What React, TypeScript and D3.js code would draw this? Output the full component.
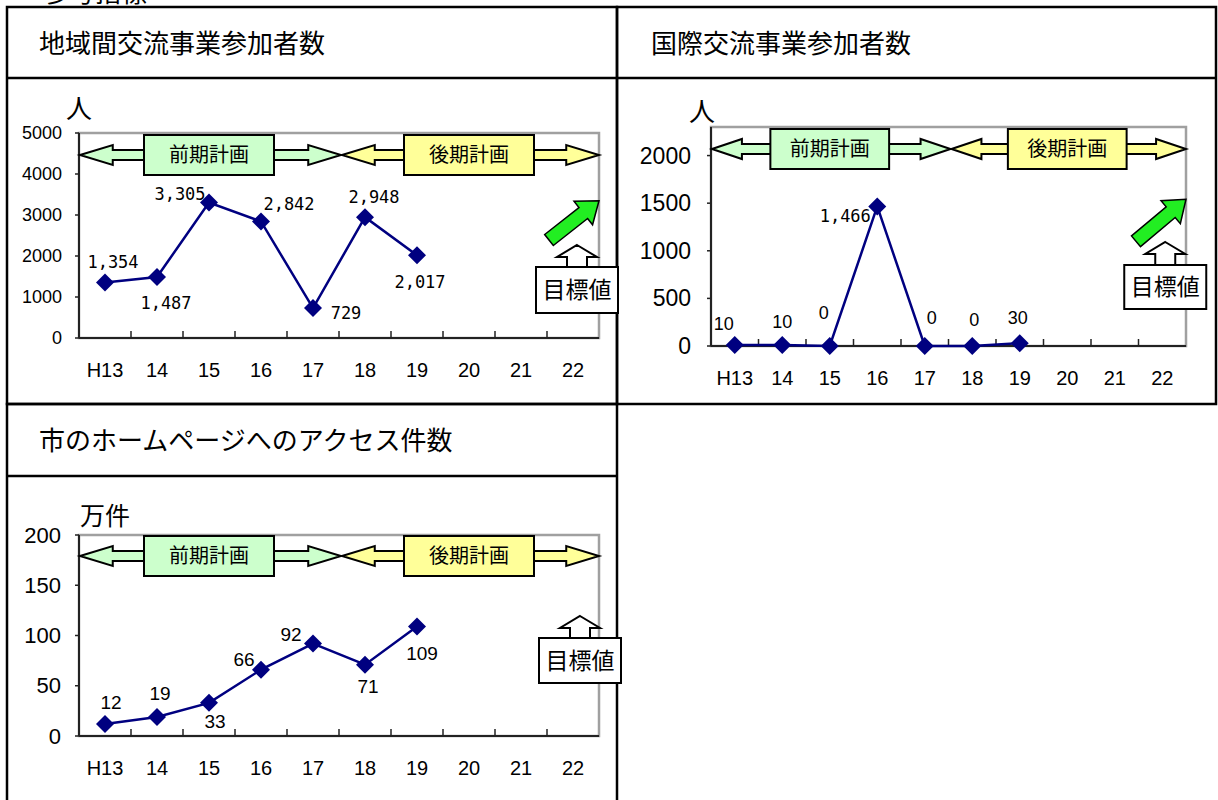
import * as d3 from 'd3';

// categories (fiscal years)
const YEARS = ['H13', '14', '15', '16', '17', '18', '19', '20', '21', '22'];

// 地域間交流事業参加者数
const EXCHANGE_VALUES = [1354, 1487, 3305, 2842, 729, 2948, 2017];
const EXCHANGE_TICKS = [0, 1000, 2000, 3000, 4000, 5000];

// 国際交流事業参加者数
const INTL_VALUES = [10, 10, 0, 1466, 0, 0, 30];
const INTL_TICKS = [0, 500, 1000, 1500, 2000];

// 市のホームページへのアクセス件数 (万件)
const ACCESS_VALUES = [12, 19, 33, 66, 92, 71, 109];
const ACCESS_TICKS = [0, 50, 100, 150, 200];

const PERIODS = [
  { name: '前期計画', from: 'H13', to: '17', fill: '#ccffcc' },
  { name: '後期計画', from: '18', to: '22', fill: '#ffff99' },
];

const JP = '"Noto Sans CJK JP", "Noto Sans", sans-serif';
const SANS = '"Liberation Sans", Arial, sans-serif';
const MONO = '"DejaVu Sans Mono", monospace';
const NAVY = '#000080';

type PanelCfg = {
  values: number[];
  ticks: number[];
  yMax: number;
  x0: number; x1: number; y0: number; y1: number;
  yTickSize: number;
  yTickGap: number;
  labelFont: (i: number) => { family: string; size: number };
  labelOffsets: [number, number][];
  periodY: number;
  greenArrow: boolean;
  targetTop: number;
  targetTip: number;
  targetDx: number;
  targetBoxH: number;
};

function blockArrow(x1: number, y1: number, x2: number, y2: number, shaftW: number, headW: number, headL: number) {
  const len = Math.hypot(x2 - x1, y2 - y1);
  const ux = (x2 - x1) / len, uy = (y2 - y1) / len;
  const nx = -uy, ny = ux;
  const bx = x2 - ux * headL, by = y2 - uy * headL;
  const pts = [
    [x1 + nx * shaftW / 2, y1 + ny * shaftW / 2],
    [bx + nx * shaftW / 2, by + ny * shaftW / 2],
    [bx + nx * headW / 2, by + ny * headW / 2],
    [x2, y2],
    [bx - nx * headW / 2, by - ny * headW / 2],
    [bx - nx * shaftW / 2, by - ny * shaftW / 2],
    [x1 - nx * shaftW / 2, y1 - ny * shaftW / 2],
  ];
  return 'M' + pts.map(p => p.join(',')).join('L') + 'Z';
}

function Panel({ cfg }: { cfg: PanelCfg }) {
  const x = d3.scaleBand().domain(YEARS).range([cfg.x0, cfg.x1]);
  const y = d3.scaleLinear().domain([0, cfg.yMax]).range([cfg.y1, cfg.y0]);
  const bw = x.bandwidth();
  const cx = (c: string) => (x(c) as number) + bw / 2;
  const pts = cfg.values.map((v, i) => [cx(YEARS[i]), y(v)] as [number, number]);
  const line = d3.line();
  const fmt = d3.format(',');
  const mid = x('18') as number;
  const py = cfg.periodY;
  const headL = bw * 0.63;

  const doubleArrow = (a: number, b: number) => {
    const hh = 10, sh = 5;
    return `M${a},${py}L${a + headL},${py - hh}L${a + headL},${py - sh}L${b - headL},${py - sh}L${b - headL},${py - hh}L${b},${py}L${b - headL},${py + hh}L${b - headL},${py + sh}L${a + headL},${py + sh}L${a + headL},${py + hh}Z`;
  };

  const tx = cx('22') + cfg.targetDx;
  const boxW = 82;
  const tTop = cfg.targetTop;
  const tTip = cfg.targetTip;
  const headY = tTip + 12;
  const upArrow = `M${tx},${tTip}L${tx + 20},${headY}L${tx + 10},${headY}L${tx + 10},${tTop}L${tx - 10},${tTop}L${tx - 10},${headY}L${tx - 20},${headY}Z`;

  return (
    <g>
      <rect x={cfg.x0} y={cfg.y0} width={cfg.x1 - cfg.x0} height={cfg.y1 - cfg.y0} fill="#fff" stroke="#a0a0a0" strokeWidth={2.5} />
      <line x1={cfg.x0} x2={cfg.x0} y1={cfg.y0} y2={cfg.y1} stroke="#222" strokeWidth={2} />
      <line x1={cfg.x0} x2={cfg.x1} y1={cfg.y1} y2={cfg.y1} stroke="#222" strokeWidth={2} />
      {cfg.ticks.map(t => (
        <g key={t}>
          <line x1={cfg.x0 - 4} x2={cfg.x0} y1={y(t)} y2={y(t)} stroke="#222" strokeWidth={1.5} />
          <text x={cfg.x0 - cfg.yTickGap} y={y(t)} textAnchor="end" dominantBaseline="central"
            fontFamily={SANS} fontSize={cfg.yTickSize}>{t}</text>
        </g>
      ))}
      {YEARS.map((c, i) => (
        <g key={c}>
          {i > 0 && <line x1={x(c)} x2={x(c)} y1={cfg.y1} y2={cfg.y1 - 7} stroke="#222" strokeWidth={1.5} />}
          <text x={cx(c)} y={cfg.y1 + 39} textAnchor="middle" fontFamily={SANS} fontSize={20}>{c}</text>
        </g>
      ))}

      {PERIODS.map((p, i) => {
        const a = i === 0 ? cfg.x0 + 1 : mid + 3;
        const b = i === 0 ? mid + 2 : cfg.x1;
        const c0 = x(p.from) as number;
        const c1 = (x(p.to) as number) + bw;
        const bc = (c0 + c1) / 2;
        const w = bw * 2.5;
        return (
          <g key={p.name}>
            <path d={doubleArrow(a, b)} fill={p.fill} stroke="#000" strokeWidth={2} strokeLinejoin="miter" />
            <rect x={bc - w / 2} y={py - 20} width={w} height={40} fill={p.fill} stroke="#000" strokeWidth={2} />
            <text x={bc} y={py + 7} textAnchor="middle" fontFamily={JP} fontSize={20}>{p.name}</text>
          </g>
        );
      })}

      {cfg.greenArrow && (
        <path d={blockArrow(cfg.x1 - 50, y(cfg.yMax * 0.478), cfg.x1, y(cfg.yMax * 0.67), 14, 30, 20)}
          fill="#22ee22" stroke="#000" strokeWidth={1.5} strokeLinejoin="miter" />
      )}
      <path d={upArrow} fill="#fff" stroke="#000" strokeWidth={2} />
      <rect x={tx - boxW / 2} y={tTop} width={boxW} height={cfg.targetBoxH} fill="#fff" stroke="#000" strokeWidth={2} />
      <text x={tx} y={tTop + cfg.targetBoxH / 2 + 8} textAnchor="middle" fontFamily={JP} fontSize={23}>目標値</text>

      <path d={line(pts) as string} fill="none" stroke={NAVY} strokeWidth={2.5} />
      {pts.map(([px, pyy], i) => (
        <path key={i} d={`M${px},${pyy - 9}L${px + 9},${pyy}L${px},${pyy + 9}L${px - 9},${pyy}Z`} fill={NAVY} />
      ))}
      {pts.map(([px, pyy], i) => {
        const f = cfg.labelFont(i);
        const [dx, dy] = cfg.labelOffsets[i];
        return (
          <text key={i} x={px + dx} y={pyy + dy} textAnchor="middle" dominantBaseline="central"
            fontFamily={f.family} fontSize={f.size}>{fmt(cfg.values[i])}</text>
        );
      })}
    </g>
  );
}

const PANEL_EXCHANGE: PanelCfg = {
  values: EXCHANGE_VALUES, ticks: EXCHANGE_TICKS, yMax: 5000,
  x0: 79, x1: 599, y0: 133, y1: 338, yTickSize: 18, yTickGap: 17,
  labelFont: () => ({ family: MONO, size: 17 }),
  labelOffsets: [[8, -20], [9, 26], [-29, -8], [28, -17], [33, 5], [9, -20], [3, 27]],
  periodY: 155, greenArrow: true, targetTop: 267, targetTip: 245, targetDx: 4, targetBoxH: 46,
};

const PANEL_INTL: PanelCfg = {
  values: INTL_VALUES, ticks: INTL_TICKS, yMax: 2300,
  x0: 711, x1: 1186, y0: 127, y1: 346, yTickSize: 23, yTickGap: 20,
  labelFont: i => (INTL_VALUES[i] >= 1000 ? { family: MONO, size: 17 } : { family: SANS, size: 18 }),
  labelOffsets: [[-11, -21], [0, -23], [-6, -33], [-32, 10], [7, -28], [2, -26], [-2, -25]],
  periodY: 149, greenArrow: true, targetTop: 265, targetTip: 242, targetDx: 3, targetBoxH: 44,
};

const PANEL_ACCESS: PanelCfg = {
  values: ACCESS_VALUES, ticks: ACCESS_TICKS, yMax: 200,
  x0: 79, x1: 599, y0: 535, y1: 736, yTickSize: 22, yTickGap: 18,
  labelFont: () => ({ family: SANS, size: 19 }),
  labelOffsets: [[6, -21], [3, -23], [6, 19], [-17, -10], [-22, -9], [3, 22], [5, 27]],
  periodY: 556, greenArrow: false, targetTop: 638, targetTip: 616, targetDx: 7, targetBoxH: 45,
};

export default function App() {
  return (
    <div style={{ position: 'absolute', left: 0, top: 0 }}>
      <svg width={1218} height={800} style={{ display: 'block', background: '#fff' }}>
        {/* heading above the panels, cropped at the top edge as in the source page */}
        <text x={43} y={2} fontFamily={JP} fontSize={26}>参考指標</text>

        <g fill="none" stroke="#000" strokeWidth={2.5}>
          <rect x={7} y={7} width={610} height={397} />
          <line x1={7} x2={617} y1={78} y2={78} />
          <rect x={617} y={7} width={599} height={397} />
          <line x1={617} x2={1216} y1={78} y2={78} />
          <rect x={7} y={404} width={610} height={410} />
          <line x1={7} x2={617} y1={476} y2={476} />
        </g>

        <text x={39} y={53} fontFamily={JP} fontSize={26}>地域間交流事業参加者数</text>
        <text x={651} y={53} fontFamily={JP} fontSize={26}>国際交流事業参加者数</text>
        <text x={39} y={450} fontFamily={JP} fontSize={26}>市のホームページへのアクセス件数</text>

        <text x={66} y={118} fontFamily={JP} fontSize={26}>人</text>
        <text x={689} y={121} fontFamily={JP} fontSize={26}>人</text>
        <text x={80} y={525} fontFamily={JP} fontSize={25}>万件</text>

        <Panel cfg={PANEL_EXCHANGE} />
        <Panel cfg={PANEL_INTL} />
        <Panel cfg={PANEL_ACCESS} />
      </svg>
    </div>
  );
}
